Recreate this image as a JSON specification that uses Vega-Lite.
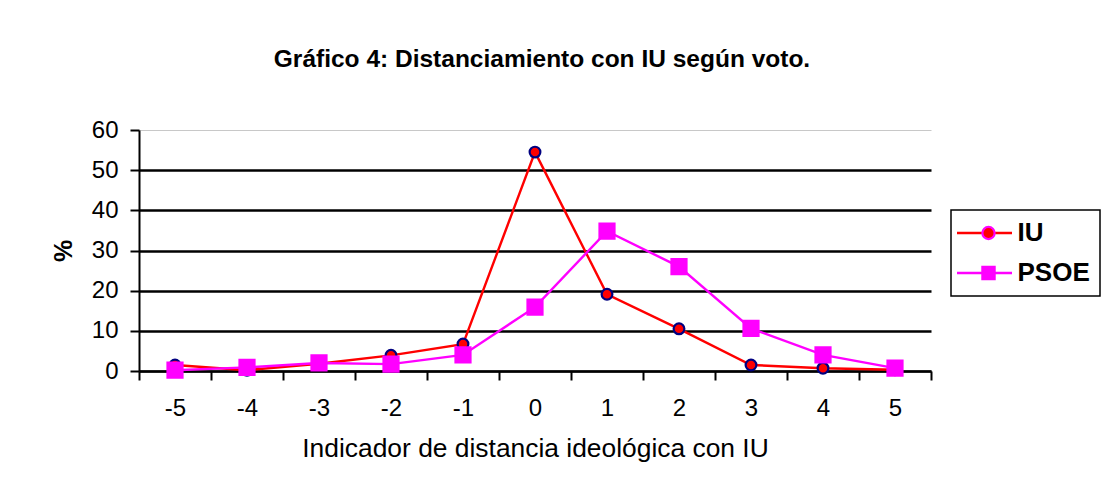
{
  "$schema": "https://vega.github.io/schema/vega-lite/v6.json",
  "autosize": "none",
  "padding": {"left": 139, "top": 130, "right": 182, "bottom": 133},
  "width": 792,
  "height": 241,
  "background": "white",
  "config": {
    "font": "Liberation Sans",
    "view": {"stroke": null}
  },
  "title": {
    "text": "Gráfico 4: Distanciamiento con IU según voto.",
    "fontSize": 24.5,
    "fontWeight": "bold",
    "color": "black",
    "anchor": "middle",
    "frame": "group",
    "dx": 7,
    "offset": 46
  },
  "data": {
    "values": [
      {"x": -5, "serie": "IU", "pct": 1.5},
      {"x": -4, "serie": "IU", "pct": 0.2},
      {"x": -3, "serie": "IU", "pct": 1.8},
      {"x": -2, "serie": "IU", "pct": 3.9},
      {"x": -1, "serie": "IU", "pct": 6.7},
      {"x": 0, "serie": "IU", "pct": 54.5},
      {"x": 1, "serie": "IU", "pct": 19.1},
      {"x": 2, "serie": "IU", "pct": 10.5},
      {"x": 3, "serie": "IU", "pct": 1.5},
      {"x": 4, "serie": "IU", "pct": 0.7},
      {"x": 5, "serie": "IU", "pct": 0.3},
      {"x": -5, "serie": "PSOE", "pct": 0.2},
      {"x": -4, "serie": "PSOE", "pct": 0.9},
      {"x": -3, "serie": "PSOE", "pct": 2.0},
      {"x": -2, "serie": "PSOE", "pct": 1.7},
      {"x": -1, "serie": "PSOE", "pct": 4.0},
      {"x": 0, "serie": "PSOE", "pct": 15.9},
      {"x": 1, "serie": "PSOE", "pct": 34.8},
      {"x": 2, "serie": "PSOE", "pct": 26.0},
      {"x": 3, "serie": "PSOE", "pct": 10.6},
      {"x": 4, "serie": "PSOE", "pct": 4.0},
      {"x": 5, "serie": "PSOE", "pct": 0.7}
    ]
  },
  "encoding": {
    "x": {
      "field": "x",
      "type": "ordinal",
      "scale": {"paddingInner": 0, "paddingOuter": 0},
      "axis": {
        "title": "Indicador de distancia ideológica con IU",
        "titleFontSize": 26.4,
        "titleFontWeight": "normal",
        "titleColor": "black",
        "titlePadding": 15,
        "labelAngle": 0,
        "labelFontSize": 24,
        "labelColor": "black",
        "labelPadding": 16,
        "domainColor": "black",
        "domainWidth": 2,
        "tickColor": "black",
        "tickWidth": 2,
        "tickSize": 9,
        "tickBand": "extent",
        "grid": false
      }
    },
    "y": {
      "field": "pct",
      "type": "quantitative",
      "scale": {"domain": [0, 60], "nice": false},
      "axis": {
        "title": "%",
        "titleFontSize": 25,
        "titleFontWeight": "bold",
        "titleColor": "black",
        "titlePadding": 15,
        "values": [0, 10, 20, 30, 40, 50, 60],
        "labelFontSize": 24,
        "labelColor": "black",
        "labelPadding": 12,
        "domainColor": "black",
        "domainWidth": 2,
        "tickColor": "black",
        "tickWidth": 2,
        "tickSize": 9,
        "grid": true,
        "gridColor": {"condition": {"test": "datum.value === 60", "value": "#c8c8c8"}, "value": "black"},
        "gridWidth": {"condition": {"test": "datum.value === 60", "value": 1}, "value": 2.5}
      }
    }
  },
  "layer": [
    {
      "mark": {"type": "line", "strokeWidth": 2.4},
      "encoding": {
        "color": {
          "field": "serie",
          "type": "nominal",
          "scale": {"domain": ["IU", "PSOE"], "range": ["#FF0000", "#FF00FF"]},
          "legend": {
            "title": null,
            "orient": "none",
            "legendX": 812,
            "legendY": 80,
            "padding": 10,
            "strokeColor": "black",
            "symbolType": "M-2.5,0H2.5",
            "symbolSize": 484,
            "symbolStrokeWidth": 2.4,
            "symbolOffset": 10.5,
            "labelOffset": 20,
            "labelFontSize": 26,
            "labelFontWeight": "bold",
            "labelColor": "black",
            "rowPadding": 14,
            "encode": {
              "legend": {"update": {"strokeWidth": {"value": 1.5}}}
            }
          }
        }
      }
    },
    {
      "mark": {"type": "point", "filled": true, "opacity": 1, "strokeWidth": 2.2},
      "encoding": {
        "fill": {
          "field": "serie",
          "type": "nominal",
          "scale": {"range": ["#FF0000", "#FF00FF"]},
          "legend": {
            "title": null,
            "orient": "none",
            "legendX": 812,
            "legendY": 80,
            "padding": 10,
            "symbolOffset": 14.5,
            "symbolSize": 150,
            "symbolStrokeWidth": 2.2,
            "labelFontSize": 26,
            "labelFontWeight": "bold",
            "labelExpr": "''",
            "rowPadding": 14,
            "encode": {
              "symbols": {
                "update": {
                  "stroke": {"signal": "datum.value === 'IU' ? '#000080' : '#FF00FF'"},
                  "size": {"signal": "datum.value === 'IU' ? 115 : 225"},
                  "fillOpacity": {"value": 1},
                  "strokeOpacity": {"value": 1}
                }
              }
            }
          }
        },
        "shape": {
          "field": "serie",
          "type": "nominal",
          "scale": {"range": ["circle", "square"]}
        },
        "size": {
          "condition": {"test": "datum.serie === 'IU'", "value": 115},
          "value": 225
        },
        "stroke": {
          "condition": {"test": "datum.serie === 'IU'", "value": "#000080"},
          "value": "#FF00FF"
        }
      }
    }
  ]
}
